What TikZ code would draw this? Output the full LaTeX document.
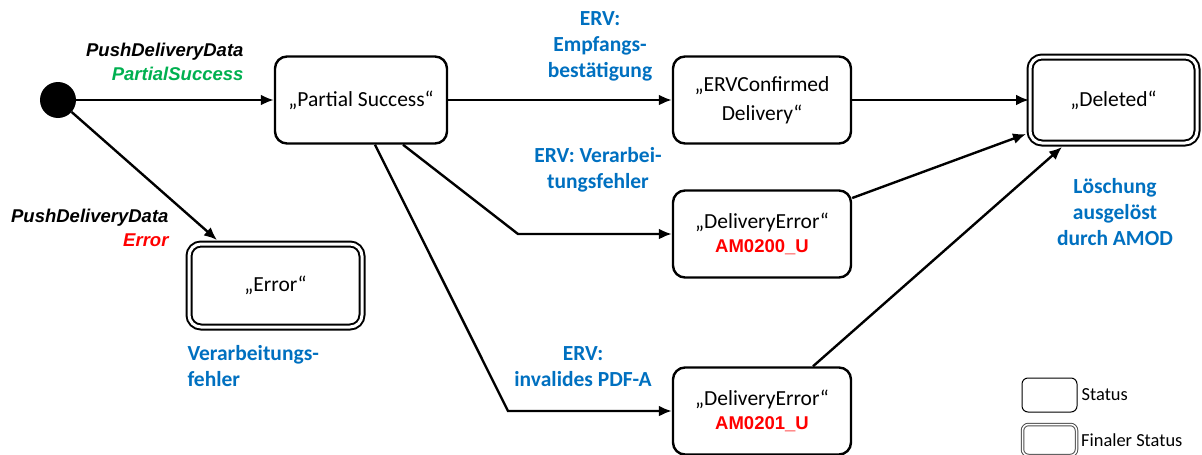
\documentclass[tikz,border=0pt]{standalone}
\usepackage{fontspec}
\setmainfont{Carlito}
\newfontfamily\arialfont{Liberation Sans}
\usetikzlibrary{arrows.meta, positioning, calc}
\definecolor{ERVBlau}{RGB}{0,112,192}
\definecolor{PDGruen}{RGB}{0,176,80}
\definecolor{PDRot}{RGB}{255,0,0}

\tikzset{
  state/.style={draw, line width=2.4pt, rounded corners=12pt, minimum width=178pt,
    minimum height=87pt, inner sep=0pt, align=center, font=\fontsize{21.5}{29}\selectfont},
  finalstate/.style={state, double, line width=2pt, double distance=3pt},
  arr/.style={line width=2.4pt, -{Latex[length=13pt, width=11pt]}},
  trans/.style={text=ERVBlau, align=center, font=\bfseries\fontsize{21.5}{26}\selectfont},
  call/.style={align=right, font=\arialfont\bfseries\itshape\fontsize{18.5}{24}\selectfont},
}
\newcommand\fehlercode[1]{\textcolor{PDRot}{\arialfont\bfseries\fontsize{18.5}{20}\selectfont #1}}

\begin{document}
\begin{tikzpicture}[x=1pt, y=-1pt]
    \useasboundingbox (0,0) rectangle (1202,455);

    % states
    \node[shape=circle, fill=black, minimum size=36pt, inner sep=0pt] (init) at (58,100) {};
    \node[state, minimum width=172pt] (partial)   at (361,100) {„Partial Success“};
    \node[state]                      (confirmed) at (762,100) {„ERVConfirmed\\Delivery“};
    \node[state]                      (deerr1)    at (762,234) {„DeliveryError“\\[-5pt]\fehlercode{AM0200\_U}};
    \node[state]                      (deerr2)    at (762,411) {„DeliveryError“\\[-5pt]\fehlercode{AM0201\_U}};
    \node[finalstate, minimum width=167pt, minimum height=86pt] (deleted) at (1113.5,100) {„Deleted“};
    \node[finalstate, minimum width=173pt, minimum height=83pt] (err)     at (275.5,285.5) {„Error“};

    % transitions
    \path[arr] (init)      edge (partial);
    \path[arr] (init)      edge ($(err.north west)+(29,-3)$);
    \path[arr] (partial)   edge (confirmed);
    \path[arr] (confirmed) edge (deleted);
    \coordinate (knick1) at (518,234);
    \coordinate (knick2) at (508,411);
    \draw[arr] ($(partial.south)+(42,0)$) -- (knick1) -- (deerr1.west);
    \draw[arr] ($(partial.south)+(14,0)$) -- (knick2) -- (deerr2.west);
    \path[arr] ($(deerr1.east)+(0,-36)$) edge ($(deleted.west)+(-3,34)$);
    \path[arr] ($(deerr2.north)+(51,0)$) edge ($(deleted.south)+(-51.5,3)$);

    % labels
    \node[call, anchor=east] (lblpartial) at (247,62) {PushDeliveryData\\\textcolor{PDGruen}{PartialSuccess}};
    \node[call, anchor=east] (lblerror)   at (172,228) {PushDeliveryData\\\textcolor{PDRot}{Error}};
    \node[trans] (lblempf)   at (600,46)  {ERV:\\Empfangs-\\bestätigung};
    \node[trans] (lblverarb) at (598,170) {ERV: Verarbei-\\tungsfehler};
    \node[trans] (lblpdfa)   at (583,367) {ERV:\\invalides PDF-A};
    \node[trans, align=left, anchor=west] (lblfehler) at (184,366) {Verarbeitungs-\\fehler};
    \node[trans] (lblloesch) at (1115,212) {Löschung\\ausgelöst\\durch AMOD};

    % legend
    \node[draw, line width=1pt, rounded corners=6pt, minimum width=55pt, minimum height=34pt] (legstate) at (1049.5,395) {};
    \node[draw=black!70, double, line width=1pt, double distance=1.5pt, rounded corners=6pt,
      minimum width=54pt, minimum height=31pt] (legfinal) at (1049.5,440) {};
    \node[right=4pt of legstate, inner sep=0pt, font=\fontsize{18.4}{20}\selectfont] (legstatetxt) {Status};
    \node[right=4pt of legfinal, inner sep=0pt, font=\fontsize{18.4}{20}\selectfont] (legfinaltxt) {Finaler Status};
\end{tikzpicture}
\end{document}
